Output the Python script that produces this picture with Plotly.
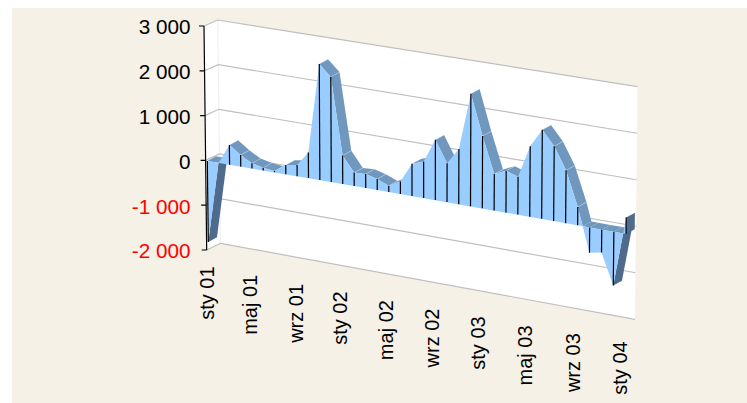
import plotly.graph_objects as go

W, H = 747, 403
values = [-1800, -10, 438, 258, 115, 60, 29, 205, 247, 562, 2550, 2310, 625, 293, 308, 240, 138, 270,
          705, 795, 1310, 845, 1195, 2440, 1565, 785, 900, 815, 1520, 1920, 1610, 1135, 395, -540, -490, -1150, 355]
month_labels = ["sty 01", "maj 01", "wrz 01", "sty 02", "maj 02", "wrz 02", "sty 03", "maj 03", "wrz 03", "sty 04"]
label_months = [0, 4, 8, 12, 16, 20, 24, 28, 32, 36]
y_ticks = [3000, 2000, 1000, 0, -1000, -2000]
y_tick_text = ["3 000", "2 000", "1 000", "0",
               '<span style="color:#FF0000">-1 000</span>', '<span style="color:#FF0000">-2 000</span>']

# Axis scales: pixel anchors of the oblique view
AX_L = 205.0          # pixel of x-axis index origin
DOM_L = 191.5         # left edge of the plotting domain (tick labels hang off it)
PX_PER_I = 11.6
Y0_PX = 161.5         # pixel of value 0 at left
PX_PER_V = 44.8 / 1000
XR = [(DOM_L - AX_L) / PX_PER_I, (W - AX_L) / PX_PER_I]
YR = [(Y0_PX - H) / PX_PER_V, Y0_PX / PX_PER_V]


def to_axes(px, py):
    return (px - AX_L) / PX_PER_I, (Y0_PX - py) / PX_PER_V


def front(i, v):
    """Oblique projection of month i, value v on the front face of the area."""
    x = 207.3 + 11.114 * i + 0.01435 * i * i + v * 0.00055 * (i - 18) / 18
    y = 161.0 + 1.861 * i + 0.00463 * i * i - v / 1000 * (45 + 0.05 * i)
    return x, y


DEPTH = (8.7, -4.7)


def back(p):
    return p[0] + DEPTH[0], p[1] + DEPTH[1]


fig = go.Figure()


def poly(points, fill, line=None, lw=1):
    xs, ys = zip(*[to_axes(*p) for p in points + points[:1]])
    fig.add_trace(go.Scatter(x=xs, y=ys, mode="lines", fill="toself", fillcolor=fill,
                             line=dict(color=line or "rgba(0,0,0,0)", width=lw if line else 0),
                             hoverinfo="skip", showlegend=False))


def seg(points, color, lw=1):
    xs, ys = zip(*[to_axes(*p) for p in points])
    fig.add_trace(go.Scatter(x=xs, y=ys, mode="lines", line=dict(color=color, width=lw),
                             hoverinfo="skip", showlegend=False))


# Walls
def wall_px(s, v):
    t = (3000 - v) / 5000
    left = (217.7 + 2.8 * t, 20 + t * 223.3)
    right = (637.5 - 2.5 * t, 86.7 + t * 232.6)
    return left[0] + s * (right[0] - left[0]), left[1] + s * (right[1] - left[1])


def axis_px(v):
    return 204.0 + (3000 - v) / 5000 * 2.7, 26 + (3000 - v) / 1000 * 44.8


poly([axis_px(3000), wall_px(0, 3000), wall_px(0, -2000), axis_px(-2000)], "#FFFFFF")
poly([wall_px(0, 3000), wall_px(1, 3000), wall_px(1, -2000), wall_px(0, -2000)], "#FFFFFF")
seg([wall_px(0, 3000), wall_px(0, -2000)], "#EFEFEF")
for v in y_ticks:
    seg([axis_px(v), wall_px(0, v), wall_px(1, v)], "#BFBFBF", 1.2)

# Ribbons
TOP = "#7098BE"
UNDER = "#4E6A8C"
n = len(values)
P = [front(i, v) for i, v in enumerate(values)]
ZERO = [front(i, 0) for i in range(n)]


def crossing(i):
    a, b = values[i], values[i + 1]
    return i + a / (a - b)


# zero-plane bands over the negative spans
neg_spans = [(0, crossing(0)), (crossing(32), crossing(35))]
for a, b in neg_spans:
    ts = [a] + [k for k in range(n) if a < k < b] + [b]
    for t0, t1 in zip(ts[:-1], ts[1:]):
        p0, p1 = front(t0, 0), front(t1, 0)
        poly([p0, p1, back(p1), back(p0)], TOP)

for i in range(n - 1):
    a, b = values[i], values[i + 1]
    p0, p1 = P[i], P[i + 1]
    if a < 0 and b < 0:
        m = (p1[1] - p0[1]) / (p1[0] - p0[0])
        if DEPTH[1] - DEPTH[0] * m > 0:
            poly([p0, p1, back(p1), back(p0)], UNDER)
        continue
    if a >= 0 > b:
        p1 = front(crossing(i), 0)
    elif a < 0 <= b:
        z = front(crossing(i), 0)
        poly([p0, z, back(z), back(p0)], UNDER)
        p0 = z
    m = (p1[1] - p0[1]) / (p1[0] - p0[0])
    if DEPTH[1] - DEPTH[0] * m < 0:
        poly([p0, p1, back(p1), back(p0)], TOP)

# End cap
poly([P[-1], ZERO[-1], back(ZERO[-1]), back(P[-1])], UNDER)

# Front face
poly(P + ZERO[::-1], "#99CCFF")

# Joint seams
for i in range(1, n - 1):
    if values[i] > 0 and (P[i + 1][1] - P[i][1]) / (P[i + 1][0] - P[i][0]) > -0.5:
        seg([P[i], back(P[i])], "rgba(255,255,255,0.25)", 1)

# Drop lines
for i in range(n):
    if i != 1:
        seg([P[i], ZERO[i]], "#000000", 1.2)

# Axis line with ticks
seg([axis_px(3000), axis_px(-2000)], "#000000", 1.2)
for v in y_ticks:
    ax, ay = axis_px(v)
    seg([(ax - 5, ay), (ax, ay)], "#000000", 1.2)

annotations = []
for lab, i in zip(month_labels, label_months):
    px = 206.3 + 11.0 * i + 0.0139 * i * i
    py = 265 + 2.08 * i
    ax, ay = to_axes(px, py)
    annotations.append(dict(x=ax, y=ay, xref="x", yref="y", text=lab, showarrow=False, textangle=-90,
                            xanchor="center", yanchor="top",
                            font=dict(family="Liberation Sans", size=20, color="#000000")))

fig.update_layout(
    width=W, height=H, margin=dict(l=0, r=0, t=0, b=0), autosize=False,
    paper_bgcolor="#FFFFFF", plot_bgcolor="rgba(0,0,0,0)", showlegend=False,
    xaxis=dict(range=XR, domain=[DOM_L / W, 1], visible=False, fixedrange=True),
    yaxis=dict(range=YR, domain=[0, 1], fixedrange=True, showgrid=False, zeroline=False, showline=False,
               tickmode="array", tickvals=y_ticks, ticktext=y_tick_text, ticks="",
               tickfont=dict(family="Liberation Sans", size=20.7, color="#000000")),
    annotations=annotations,
    shapes=[dict(type="rect", xref="paper", yref="paper", x0=12 / W, x1=1, y0=0, y1=1 - 8 / H,
                 fillcolor="#F5F1E6", line_width=0, layer="below")],
)
fig.write_html("out.html", post_script="document.body.style.margin='0';", config={"displayModeBar": False})
